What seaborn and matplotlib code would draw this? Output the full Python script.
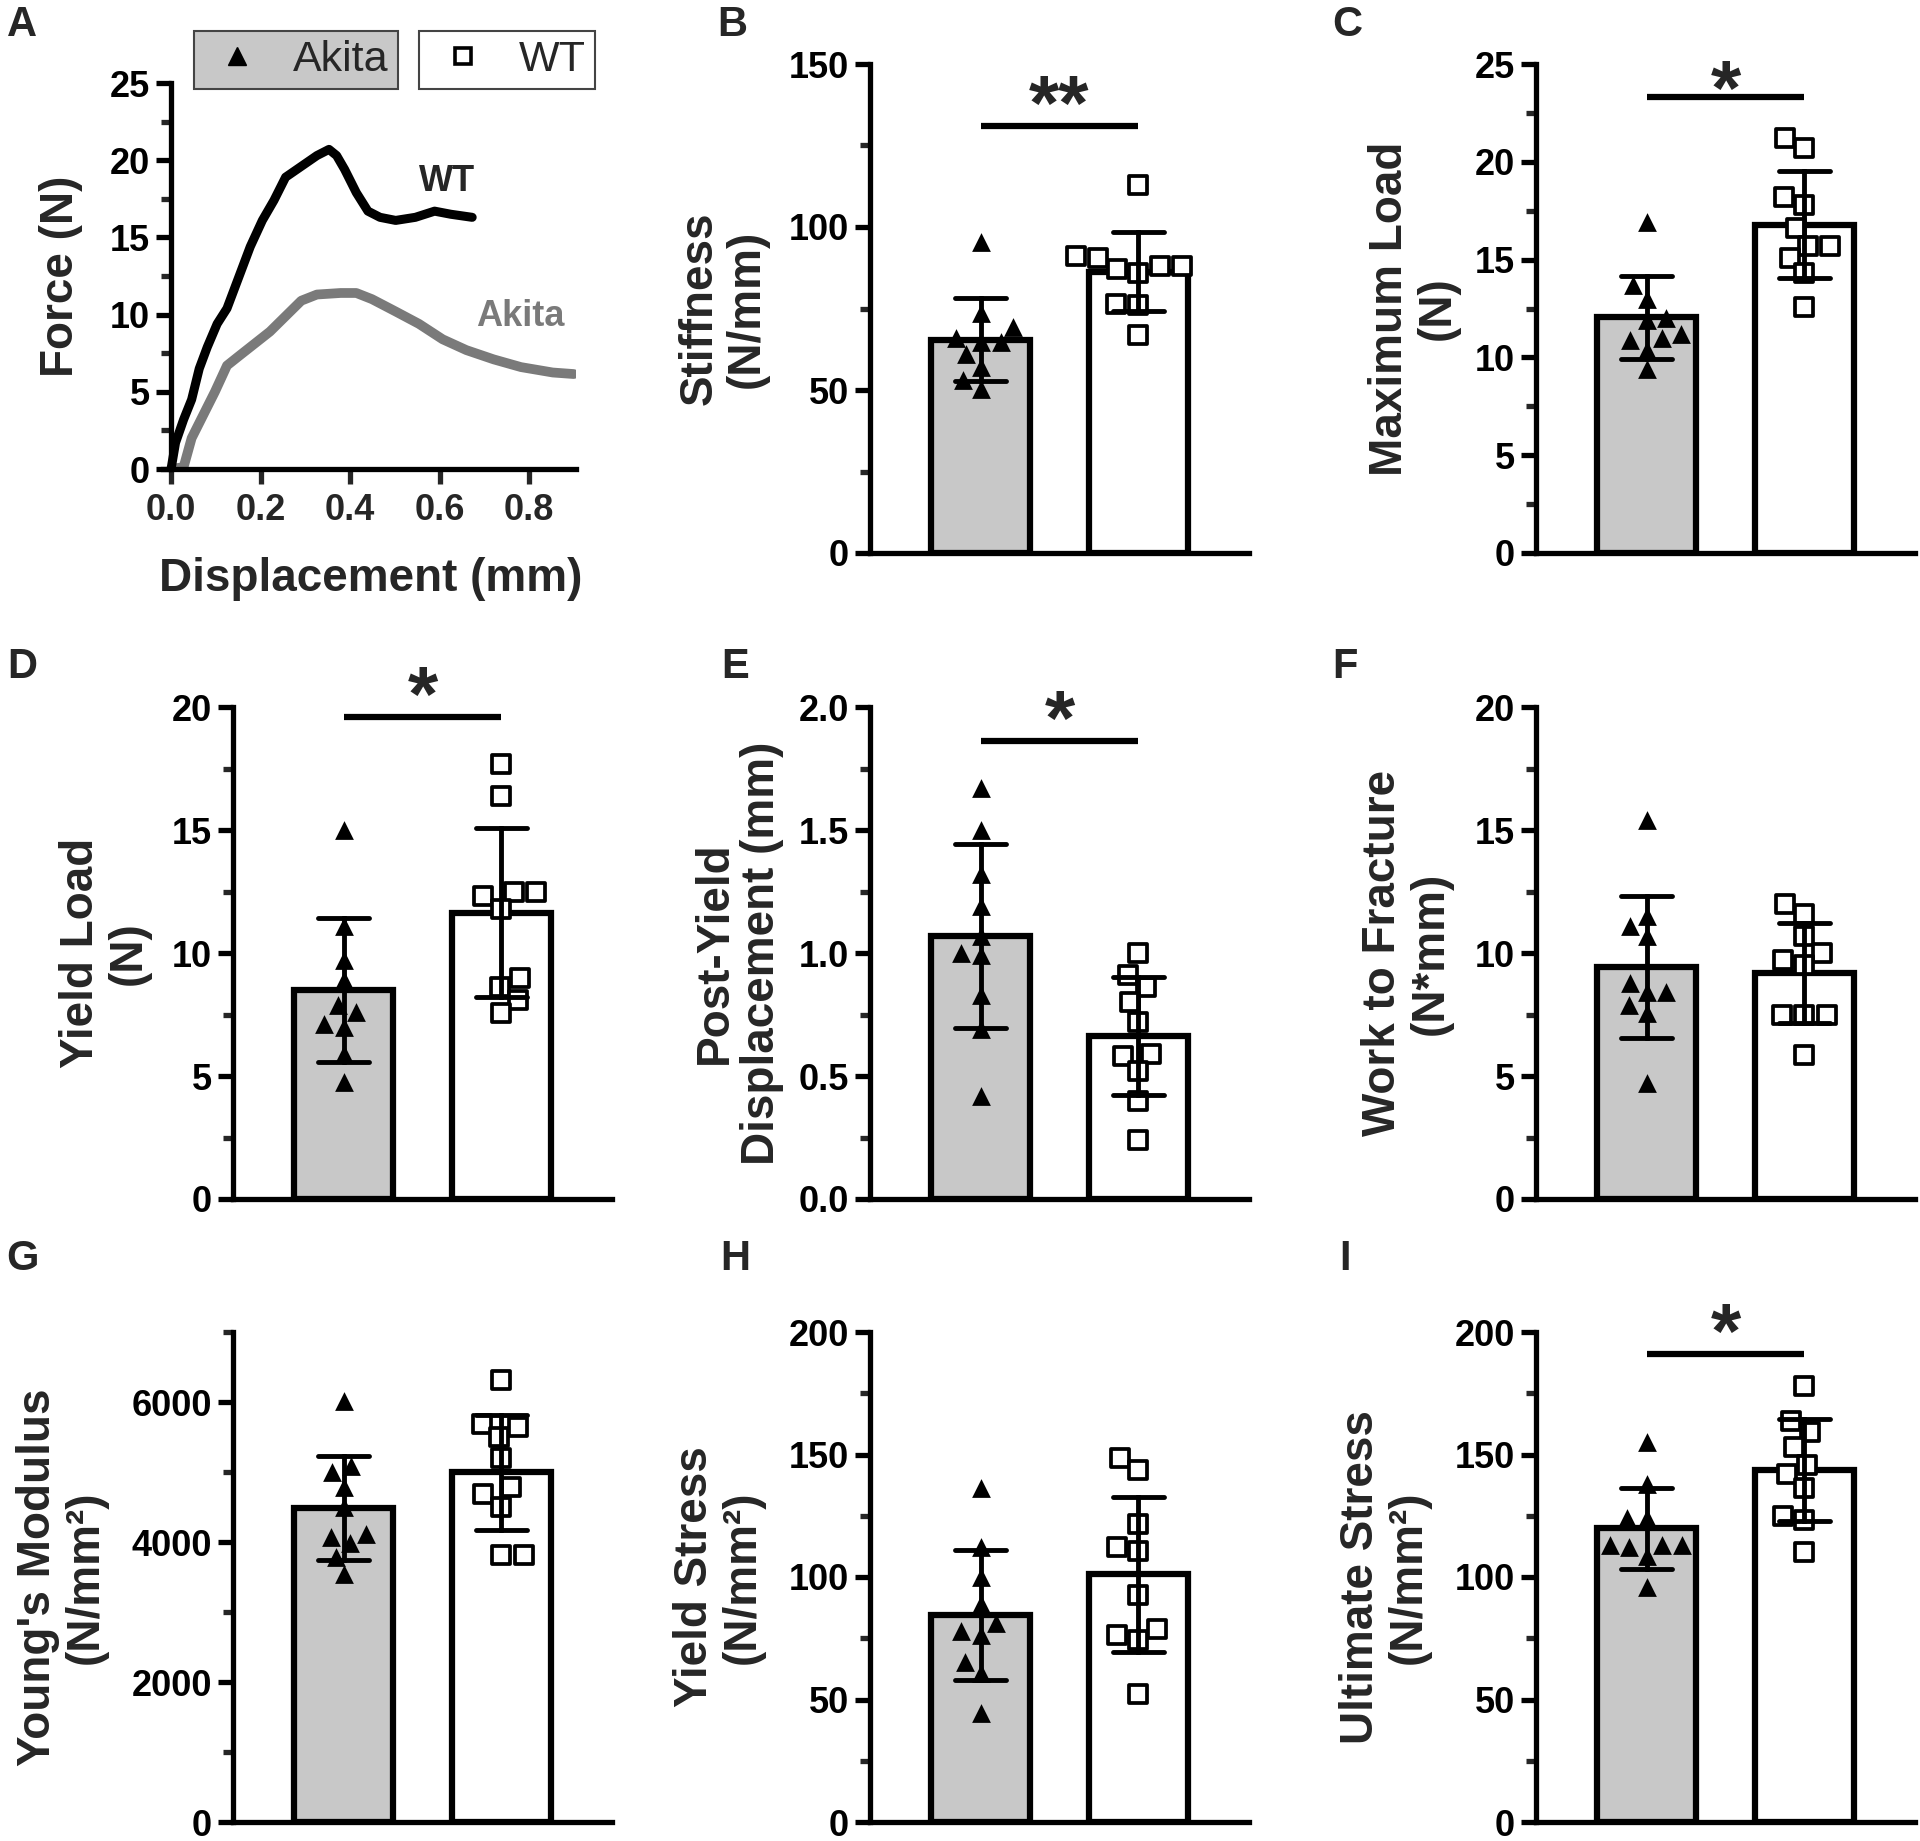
import numpy as np
import pandas as pd
import matplotlib
matplotlib.use("Agg")
import matplotlib.pyplot as plt
from matplotlib.lines import Line2D
from matplotlib.ticker import MultipleLocator, FormatStrFormatter
import seaborn as sns
import warnings

warnings.filterwarnings("ignore")

sns.set_theme(style="ticks")
plt.rcParams['font.family'] = ['Liberation Sans', 'DejaVu Sans']
plt.rcParams['font.weight'] = 'bold'

groups = ['Akita', 'WT']
bar_colors = {'Akita': '#c8c8c8', 'WT': 'white'}

# panel A: force-displacement curves
wt_disp = [0.0, 0.01, 0.028, 0.046, 0.063, 0.081, 0.103, 0.125, 0.151, 0.177, 0.204, 0.23,
           0.256, 0.291, 0.326, 0.353, 0.37, 0.388, 0.414, 0.44, 0.467, 0.502, 0.546, 0.589,
           0.625, 0.673]
wt_force = [0.0, 1.7, 3.2, 4.5, 6.5, 7.9, 9.4, 10.4, 12.4, 14.4, 16.1, 17.4,
            18.9, 19.6, 20.3, 20.7, 20.3, 19.4, 17.9, 16.7, 16.3, 16.1, 16.3, 16.7,
            16.5, 16.3]
akita_disp = [0.0, 0.028, 0.046, 0.072, 0.098, 0.125, 0.151, 0.186, 0.221, 0.256, 0.291,
              0.326, 0.379, 0.414, 0.449, 0.502, 0.554, 0.607, 0.66, 0.721, 0.782, 0.853, 0.9]
akita_force = [0.0, 0.12, 2.0, 3.5, 5.0, 6.7, 7.3, 8.1, 8.9, 9.9, 10.9,
               11.3, 11.4, 11.4, 11.0, 10.2, 9.4, 8.4, 7.7, 7.1, 6.6, 6.25, 6.15]

# panels B-I: individual animals
stiffness_akita = [95.3, 73.5, 69.4, 64.7, 65.8, 64.7, 57.0, 61.0, 53.0, 50.4]
stiffness_wt = [113.0, 91.0, 90.5, 88.0, 88.0, 87.0, 86.0, 76.5, 76.0, 67.0]
maxload_akita = [16.9, 13.7, 13.0, 11.9, 12.0, 11.2, 10.9, 11.0, 10.4, 9.4]
maxload_wt = [20.7, 21.2, 17.8, 18.2, 16.6, 15.7, 15.7, 15.1, 14.3, 12.6]
yieldload_akita = [15.0, 11.1, 9.7, 8.9, 7.9, 7.1, 7.6, 7.0, 5.9, 4.75]
yieldload_wt = [17.7, 16.4, 12.5, 12.3, 12.5, 11.8, 8.6, 9.0, 8.1, 7.55]
postyield_akita = [1.67, 1.50, 1.32, 1.19, 1.07, 1.00, 0.99, 0.83, 0.69, 0.42]
postyield_wt = [1.00, 0.91, 0.86, 0.80, 0.72, 0.59, 0.58, 0.52, 0.40, 0.24]
work_akita = [15.4, 11.5, 11.1, 10.7, 8.8, 8.4, 8.4, 7.9, 7.55, 4.7]
work_wt = [12.0, 11.6, 10.7, 10.0, 9.5, 9.7, 7.5, 7.5, 7.5, 5.85]
modulus_akita = [6017, 5000, 5083, 4780, 4506, 4121, 4066, 3984, 3791, 3544]
modulus_wt = [6308, 5649, 5687, 5500, 5200, 4780, 4682, 4506, 3819, 3819]
ystress_akita = [136.5, 112.3, 99.8, 88.9, 81.1, 78.0, 76.4, 65.5, 60.8, 44.5]
ystress_wt = [148.5, 143.8, 121.7, 110.8, 112.3, 92.8, 78.8, 76.4, 74.1, 52.3]
ustress_akita = [155.2, 138.1, 124.1, 124.1, 113.2, 113.2, 113.2, 112.4, 108.6, 96.1]
ustress_wt = [177.8, 163.8, 159.1, 152.9, 145.9, 142.0, 136.5, 124.9, 123.3, 110.1]

fig = plt.figure(figsize=(19.2, 18.41), dpi=100)
W, H = 1920, 1841


def rect(left, top, width, bottom):
    return [left / W, 1 - bottom / H, width / W, (bottom - top) / H]


def style_axis(ax, step, fmt):
    for s in ['top', 'right']:
        ax.spines[s].set_visible(False)
    for s in ['left', 'bottom']:
        ax.spines[s].set_linewidth(3.8)
        ax.spines[s].set_color('black')
        ax.spines[s].set_capstyle('projecting')
    ax.yaxis.set_major_locator(MultipleLocator(step))
    ax.yaxis.set_minor_locator(MultipleLocator(step / 2))
    ax.yaxis.set_major_formatter(FormatStrFormatter(fmt))
    ax.tick_params(axis='y', which='major', length=11, width=3.8, labelsize=26, pad=4, colors='black')
    ax.tick_params(axis='y', which='minor', length=7, width=3.8)


def bar_panel(ax, akita, wt, ymax, step, ylabel, label_x, fmt='%d', sig=None):
    df = pd.DataFrame({'group': ['Akita'] * len(akita) + ['WT'] * len(wt),
                       'value': list(akita) + list(wt)})
    sns.barplot(data=df, x='group', y='value', hue='group', order=groups, hue_order=groups,
                palette=bar_colors, saturation=1, width=0.63, edgecolor='black', linewidth=4.5,
                errorbar='sd', capsize=0.32, legend=False,
                err_kws={'color': 'black', 'linewidth': 3.5, 'zorder': 5}, ax=ax)
    sns.swarmplot(data=df[df['group'] == 'Akita'], x='group', y='value', order=groups,
                  marker='^', color='black', size=13.5, linewidth=0, zorder=4, ax=ax)
    sns.swarmplot(data=df[df['group'] == 'WT'], x='group', y='value', order=groups,
                  marker='s', color='white', edgecolor='black', size=12.5, linewidth=2.7,
                  zorder=4, ax=ax)
    for c in ax.collections:
        c.set_clip_on(False)
    ax.set_xlim(-0.70, 1.70)
    ax.set_ylim(0, ymax)
    ax.set_xticks([])
    ax.set_xlabel('')
    style_axis(ax, step, fmt)
    ax.set_ylabel(ylabel, fontsize=33, fontweight='bold', linespacing=1.1, va='center')
    ax.yaxis.set_label_coords(label_x, 0.5)
    if sig is not None:
        y_line, stars, lift = sig
        ax.plot([0, 1], [y_line, y_line], color='black', lw=4.5, solid_capstyle='butt', clip_on=False)
        ax.annotate(stars, xy=(0.5, y_line), xytext=(0, lift), textcoords='offset points',
                    ha='center', va='center', fontsize=56, fontweight='bold',
                    annotation_clip=False)


# panel A
axA = fig.add_axes(rect(163, 83, 413, 469))
sns.lineplot(x=akita_disp, y=akita_force, color='#7a7a7a', linewidth=7, ax=axA)
sns.lineplot(x=wt_disp, y=wt_force, color='black', linewidth=6.5, ax=axA)
axA.set_xlim(-0.018, 0.905)
axA.set_ylim(0, 25)
axA.spines['left'].set_position(('data', 0))
style_axis(axA, 5, '%d')
axA.set_xticks([0.0, 0.2, 0.4, 0.6, 0.8])
axA.xaxis.set_major_formatter(FormatStrFormatter('%.1f'))
axA.tick_params(axis='x', length=11, width=3.8, labelsize=26, pad=6)
axA.set_ylabel('Force (N)', fontsize=33, fontweight='bold', va='center')
axA.yaxis.set_label_coords(-0.247, 0.5)
axA.set_xlabel('Displacement (mm)', fontsize=33, fontweight='bold', va='center')
axA.xaxis.set_label_coords(0.504, -0.285)
axA.text(0.617, 18.65, 'WT', fontsize=26, fontweight='bold', ha='center', va='center')
axA.text(0.78, 9.9, 'Akita', fontsize=26, fontweight='bold', color='#7a7a7a', ha='center', va='center')

# legend: two separate boxes above panel A
h_akita = Line2D([], [], marker='^', color='black', ls='', markersize=13)
h_wt = Line2D([], [], marker='s', mfc='white', mec='black', mew=2.6, ls='', markersize=12)
leg_kw = dict(loc='center', frameon=True, fancybox=False, edgecolor='#444444', framealpha=1,
              prop={'size': 31, 'weight': 'normal'}, borderpad=0.22, handlelength=1.6,
              handletextpad=0.5, borderaxespad=0)
leg1 = fig.legend([h_akita], ['Akita'], bbox_to_anchor=(296 / W, 1 - 60 / H),
                  facecolor='#c8c8c8', **leg_kw)
leg2 = fig.legend([h_wt], ['WT'], bbox_to_anchor=(507 / W, 1 - 60 / H),
                  facecolor='white', **leg_kw)
for leg in (leg1, leg2):
    leg.get_frame().set_linewidth(1.5)

# bar panels
cols = [233, 870, 1536]
rows = [(64, 553), (707, 1199), (1332, 1822)]
bw = 379

axB = fig.add_axes(rect(cols[1], rows[0][0], bw, rows[0][1]))
bar_panel(axB, stiffness_akita, stiffness_wt, 150, 50, 'Stiffness\n(N/mm)', -0.388, sig=(131, '**', 12))
axC = fig.add_axes(rect(cols[2], rows[0][0], bw, rows[0][1]))
bar_panel(axC, maxload_akita, maxload_wt, 25, 5, 'Maximum Load\n(N)', -0.322, sig=(23.3, '*', 2))
axD = fig.add_axes(rect(cols[0], rows[1][0], bw, rows[1][1]))
bar_panel(axD, yieldload_akita, yieldload_wt, 20, 5, 'Yield Load\n(N)', -0.338, sig=(19.6, '*', 12))
axE = fig.add_axes(rect(cols[1], rows[1][0], bw, rows[1][1]))
bar_panel(axE, postyield_akita, postyield_wt, 2.0, 0.5, 'Post-Yield\nDisplacement (mm)', -0.348,
          fmt='%.1f', sig=(1.86, '*', 12))
axF = fig.add_axes(rect(cols[2], rows[1][0], bw, rows[1][1]))
bar_panel(axF, work_akita, work_wt, 20, 5, 'Work to Fracture\n(N*mm)', -0.340)
axG = fig.add_axes(rect(cols[0], rows[2][0], bw, rows[2][1]))
bar_panel(axG, modulus_akita, modulus_wt, 7000, 2000, "Young's Modulus\n(N/mm²)", -0.451)
axG.yaxis.set_minor_locator(MultipleLocator(1000))
axH = fig.add_axes(rect(cols[1], rows[2][0], bw, rows[2][1]))
bar_panel(axH, ystress_akita, ystress_wt, 200, 50, 'Yield Stress\n(N/mm²)', -0.398)
axI = fig.add_axes(rect(cols[2], rows[2][0], bw, rows[2][1]))
bar_panel(axI, ustress_akita, ustress_wt, 200, 50, 'Ultimate Stress\n(N/mm²)', -0.398,
          sig=(191, '*', 12))

letters = [('A', 22, 25), ('B', 732, 25), ('C', 1347, 25),
           ('D', 22, 667), ('E', 735, 667), ('F', 1345, 667),
           ('G', 22, 1259), ('H', 735, 1259), ('I', 1345, 1259)]
for txt, x, y in letters:
    fig.text(x / W, 1 - y / H, txt, fontsize=30, fontweight='bold', ha='center', va='center')

fig.savefig('out.png', dpi=100)
